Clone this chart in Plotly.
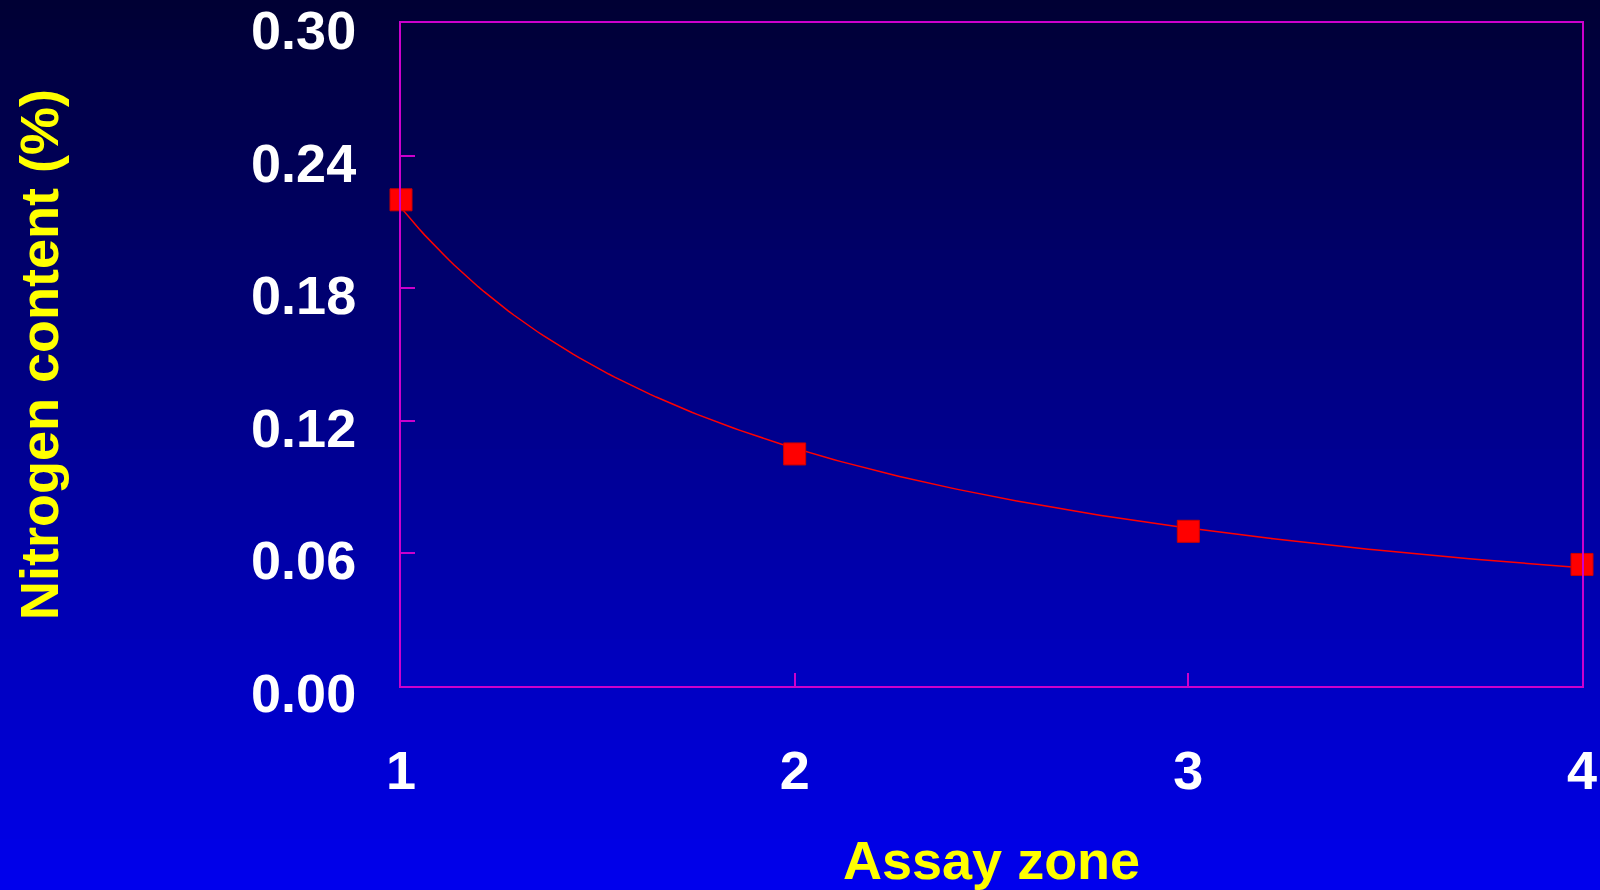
import numpy as np
import plotly.graph_objects as go

# Data
zones = [1, 2, 3, 4]
nitrogen = [0.220, 0.105, 0.070, 0.055]
x_tick_vals = [1, 2, 3, 4]
x_tick_text = ["1", "2", "3", "4"]
y_tick_vals = [0.00, 0.06, 0.12, 0.18, 0.24, 0.30]
y_tick_text = ["0.00", "0.06", "0.12", "0.18", "0.24", "0.30"]

# Power trendline fitted to the data (least squares on logs)
b, log_a = np.polyfit(np.log(zones), np.log(nitrogen), 1)
trend_x = np.linspace(min(zones), max(zones), 200)
trend_y = np.exp(log_a) * trend_x ** b

W, H = 1600, 890
L, R, T, B = 401, 18, 23, 204
plot_w = W - L - R
plot_h = H - T - B

FONT = "Liberation Sans, Arial, sans-serif"
MAG = "#CC00CC"

fig = go.Figure()
fig.add_trace(go.Scatter(x=trend_x, y=trend_y, mode="lines",
                         line=dict(color="#FF0000", width=1.5),
                         hoverinfo="skip", showlegend=False, cliponaxis=False))
fig.add_trace(go.Scatter(x=zones, y=nitrogen, mode="markers",
                         marker=dict(symbol="square", size=22, color="#FF0000",
                                     line=dict(color="#CC0000", width=1)),
                         showlegend=False, cliponaxis=False))

# gradient background strips
shapes = []
n = 89
for i in range(n):
    py0 = i * H / n - 0.5
    py1 = (i + 1) * H / n + 0.6
    frac = (i + 0.5) / n
    bval = int(round(51 + (238 - 51) * frac))
    shapes.append(dict(type="rect", xref="paper", yref="paper",
                       x0=(-L - 5) / plot_w, x1=1 + (R + 5) / plot_w,
                       y0=(H - B - py1) / plot_h, y1=(H - B - py0) / plot_h,
                       fillcolor=f"rgb(0,0,{bval})", line=dict(width=0), layer="below"))

fig.update_layout(
    width=W, height=H,
    margin=dict(l=L, r=R, t=T, b=B, autoexpand=False),
    paper_bgcolor="#000080", plot_bgcolor="rgba(0,0,0,0)",
    shapes=shapes,
    xaxis=dict(range=[1, 4], tickvals=x_tick_vals, ticktext=x_tick_text,
               automargin=False,
               showgrid=False, zeroline=False, showline=True, mirror=True,
               linecolor=MAG, linewidth=2, ticks="inside", ticklen=13,
               tickcolor=MAG, tickwidth=1.5, ticklabelstandoff=36,
               ticklabeloverflow="allow",
               tickfont=dict(family=FONT, size=54, color="white", weight="bold")),
    yaxis=dict(range=[0, 0.30], tickvals=y_tick_vals, ticktext=y_tick_text,
               automargin=False,
               showgrid=False, zeroline=False, showline=True, mirror=True,
               linecolor=MAG, linewidth=2, ticks="inside", ticklen=14,
               tickcolor=MAG, tickwidth=1.5, ticklabelstandoff=32,
               ticklabelshift=7,
               ticklabeloverflow="allow",
               tickfont=dict(family=FONT, size=54, color="white", weight="bold")),
    annotations=[
        dict(text="Assay zone", xref="paper", yref="paper",
             x=(991 - L) / plot_w, y=(H - B - 860) / plot_h,
             xanchor="center", yanchor="middle", showarrow=False,
             font=dict(family=FONT, size=54, color="#FFFF00", weight="bold")),
        dict(text="Nitrogen content (%)", xref="paper", yref="paper",
             x=(39 - L) / plot_w, y=(H - B - 355) / plot_h, textangle=-90,
             xanchor="center", yanchor="middle", showarrow=False,
             font=dict(family=FONT, size=54, color="#FFFF00", weight="bold")),
    ],
)

fig.write_html("out.html", config={"displayModeBar": False},
               post_script="document.body.style.margin='0';document.body.style.overflow='hidden';")
